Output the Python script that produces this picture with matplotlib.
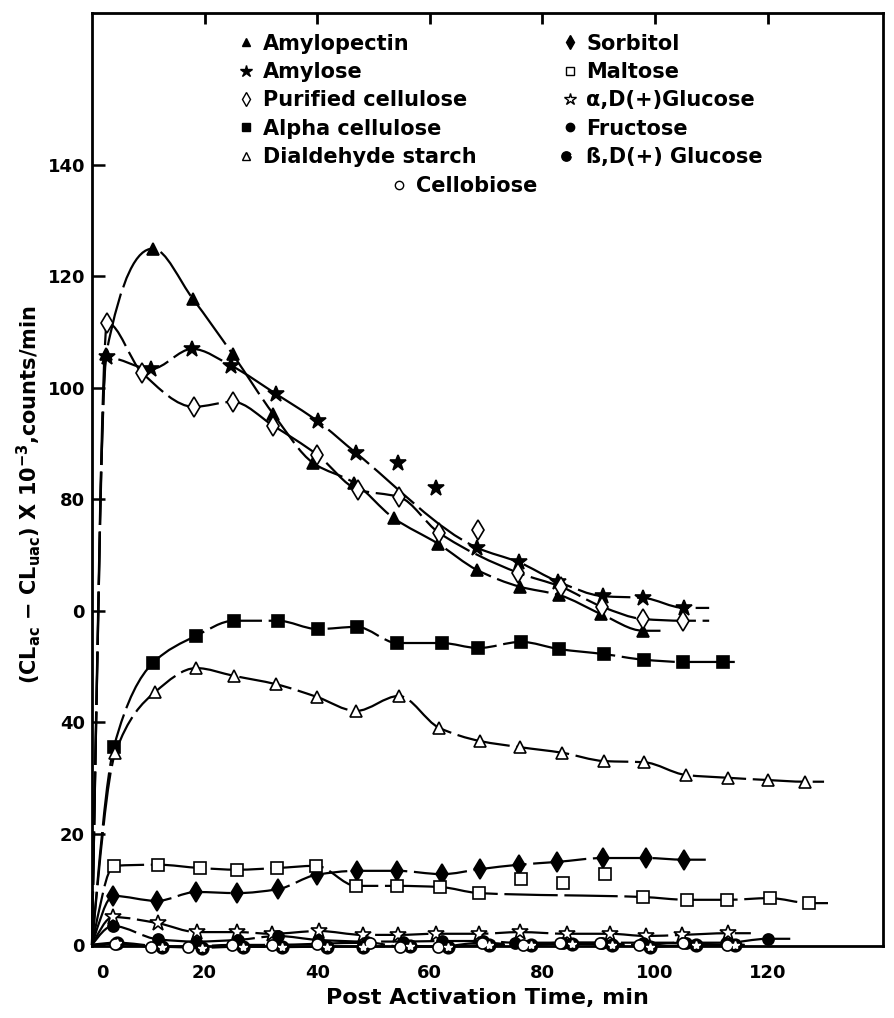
import numpy as np
import matplotlib
matplotlib.use('Agg')
import matplotlib.pyplot as plt
import matplotlib.transforms as mtransforms
from matplotlib.path import Path
from matplotlib.patches import PathPatch
from matplotlib.lines import Line2D
from matplotlib.legend_handler import HandlerTuple

# values (x = min, y = counts/min x 1e-3)
amylopectin_x = [2.5, 10.8, 17.9, 25.0, 32.2, 39.3, 46.5, 53.6, 61.5, 68.4, 76.0, 83.0, 90.4, 97.9]
amylopectin_y = [106, 125, 116, 106, 95.3, 86.5, 83, 76.6, 72, 67.3, 64.3, 62.8, 59.4, 56.4]

amylose_x = [2.6, 10.5, 17.8, 24.7, 32.7, 40.1, 46.9, 54.4, 61.1, 68.4, 75.8, 82.8, 90.8, 97.9, 105.2]
amylose_y = [105.5, 103.4, 107, 104, 98.9, 94, 88.3, 86.5, 82, 71.3, 68.7, 65.2, 62.6, 62.3, 60.5]

purified_x = [2.7, 8.9, 18.1, 25.0, 32.2, 40.0, 47.3, 54.6, 61.6, 68.6, 75.7, 83.3, 90.6, 97.9, 105.0]
purified_y = [111.7, 102.7, 96.6, 97.5, 93.2, 88, 81.7, 80.4, 74, 74.5, 66.8, 64.3, 60.7, 58.5, 58.2]

alpha_x = [3.9, 10.8, 18.5, 25.2, 33.0, 40.1, 47.0, 54.2, 62.1, 68.6, 76.2, 83.0, 91.0, 98.0, 105.0, 112.0]
alpha_y = [35.6, 50.6, 55.5, 58.2, 58.2, 56.7, 57.1, 54.2, 54.2, 53.3, 54.4, 53.1, 52.2, 51.2, 50.8, 50.8]

dialdehyde_x = [4.1, 11.2, 18.5, 25.2, 32.7, 40.0, 46.9, 54.5, 61.6, 68.9, 76.0, 83.5, 91.0, 98.0, 105.5, 113.0, 120.0, 126.6]
dialdehyde_y = [34.4, 45.4, 49.7, 48.3, 46.8, 44.5, 42, 44.7, 39, 36.6, 35.5, 34.5, 33, 32.8, 30.5, 30, 29.6, 29.3]

sorbitol_x = [3.8, 11.5, 18.5, 25.8, 33.0, 39.9, 47.0, 54.2, 62.2, 68.9, 75.8, 82.6, 90.8, 98.4, 105.2]
sorbitol_y = [8.8, 7.9, 9.5, 9.3, 10, 12.6, 13.3, 13.3, 12.7, 13.6, 14.4, 14.9, 15.6, 15.6, 15.3]

maltose_x = [3.9, 11.7, 19.2, 25.8, 32.8, 39.8, 46.9, 54.2, 61.8, 68.7, 76.2, 83.6, 91.1, 97.9, 105.7, 112.8, 120.4, 127.4]
maltose_y = [14.2, 14.4, 13.8, 13.5, 13.8, 14.2, 10.6, 10.6, 10.4, 9.3, 11.8, 11.1, 12.7, 8.6, 8.1, 8.1, 8.4, 7.5]

aglucose_x = [3.7, 11.7, 18.6, 25.8, 32.0, 40.3, 48.1, 54.4, 61.1, 68.7, 76.0, 84.4, 92.0, 98.4, 104.8, 113.0]
aglucose_y = [5, 3.9, 2.3, 2.3, 2, 2.5, 1.8, 1.8, 2, 2, 2.3, 2, 2, 1.6, 1.8, 2.1]

fructose_x = [3.7, 11.7, 18.5, 25.9, 33.0, 40.1, 48.8, 55.3, 62.2, 69.5, 75.1, 83.6, 90.6, 97.9, 105.5, 112.6, 120.0]
fructose_y = [3.4, 1, 0.6, 0.9, 1.6, 0.9, 0.6, 0.6, 0.7, 0.7, 0.4, 0.4, 0.4, 0.4, 0.4, 0.4, 1.1]

bglucose_x = [4.4, 12.4, 19.5, 26.8, 33.7, 41.7, 48.2, 56.5, 63.2, 70.5, 78.0, 85.3, 92.4, 99.1, 107.3, 114.2]
bglucose_y = [0.4, -0.3, -0.5, -0.3, -0.4, -0.3, -0.3, -0.2, -0.3, 0, 0, 0.2, 0, -0.3, 0, 0]

cellobiose_x = [4.1, 10.5, 17.0, 24.9, 32.0, 40.0, 49.4, 54.7, 61.5, 69.3, 76.6, 83.1, 90.2, 97.2, 105.0, 112.8]
cellobiose_y = [0.2, -0.3, -0.3, 0, 0, 0.2, 0.4, -0.3, -0.3, 0.4, 0, 0.4, 0.4, 0, 0.4, 0]

# points that sit off the hand-drawn curve (index into the series)
amylose_off = [7, 8]
purified_off = [9]
maltose_off = [10, 11, 12]

x_ticks = [0, 20, 40, 60, 80, 100, 120]
y_ticks = [0, 20, 40, 60, 80, 100, 120, 140]
y_ticklabels = ['0', '20', '40', '0', '80', '100', '120', '140']

plt.rcParams['font.family'] = ['DejaVu Sans']
plt.rcParams['font.weight'] = 'bold'
plt.rcParams['mathtext.fontset'] = 'dejavusans'


def pchip_slopes(x, y):
    h = np.diff(x)
    delta = np.diff(y) / h
    n = len(x)
    d = np.zeros(n)
    for k in range(1, n - 1):
        if delta[k - 1] * delta[k] <= 0:
            d[k] = 0.0
        else:
            w1 = 2 * h[k] + h[k - 1]
            w2 = h[k] + 2 * h[k - 1]
            d[k] = (w1 + w2) / (w1 / delta[k - 1] + w2 / delta[k])

    def end_slope(h0, h1, m0, m1):
        s = ((2 * h0 + h1) * m0 - h0 * m1) / (h0 + h1)
        if np.sign(s) != np.sign(m0):
            s = 0.0
        elif np.sign(m0) != np.sign(m1) and abs(s) > abs(3 * m0):
            s = 3 * m0
        return s

    if n > 2:
        d[0] = end_slope(h[0], h[1], delta[0], delta[1])
        d[-1] = end_slope(h[-1], h[-2], delta[-1], delta[-2])
    else:
        d[:] = delta[0]
    return d


def smooth_path(x, y):
    # monotone cubic through the points, handed to matplotlib as bezier segments
    x = np.asarray(x, float)
    y = np.asarray(y, float)
    d = pchip_slopes(x, y)
    verts = [(x[0], y[0])]
    codes = [Path.MOVETO]
    for i in range(len(x) - 1):
        h = x[i + 1] - x[i]
        verts += [(x[i] + h / 3, y[i] + d[i] * h / 3),
                  (x[i + 1] - h / 3, y[i + 1] - d[i + 1] * h / 3),
                  (x[i + 1], y[i + 1])]
        codes += [Path.CURVE4] * 3
    return Path(verts, codes)


# name, x, y, marker, face, size, end of drawn curve, off-curve points
series = [
    ('Amylopectin', amylopectin_x, amylopectin_y, '^', 'black', 8, 102, []),
    ('Amylose', amylose_x, amylose_y, '*', 'black', 12, 109.6, amylose_off),
    ('Purified cellulose', purified_x, purified_y, 'd', 'white', 10, 109.6, purified_off),
    ('Alpha cellulose', alpha_x, alpha_y, 's', 'black', 8.5, 115, []),
    ('Dialdehyde starch', dialdehyde_x, dialdehyde_y, '^', 'white', 8, 130, []),
    ('Sorbitol', sorbitol_x, sorbitol_y, 'd', 'black', 10, 109, []),
    ('Maltose', maltose_x, maltose_y, 's', 'white', 8.5, 130.7, maltose_off),
    ('α,D(+)Glucose', aglucose_x, aglucose_y, '*', 'white', 12, 117, []),
    ('Fructose', fructose_x, fructose_y, 'o', 'black', 8, 124, []),
    ('ß,D(+) Glucose', bglucose_x, bglucose_y, 'o', 'black', 9, 116, []),
    ('Cellobiose', cellobiose_x, cellobiose_y, 'o', 'white', 8, 116, []),
]

fig = plt.figure(figsize=(8.94, 10.18), dpi=100)
ax = fig.add_axes([0.1029, 0.0707, 0.885, 0.9165])

handles = {}
for name, xs, ys, mk, fc, ms, x_end, off in series:
    on = [i for i in range(len(xs)) if i not in off]
    lx = [0] + [xs[i] for i in on] + [x_end]
    ly = [0] + [ys[i] for i in on] + [ys[on[-1]]]
    patch = PathPatch(smooth_path(lx, ly), facecolor='none', edgecolor='black',
                      lw=1.6, linestyle=(0, (24, 3)), zorder=2, clip_on=False)
    ax.add_patch(patch)
    ax.plot(xs, ys, linestyle='none', marker=mk, ms=ms, mfc=fc, mec='black',
            mew=1.2, zorder=3, clip_on=False)
    h = Line2D([], [], linestyle='none', marker=mk, ms=ms * 0.75, mfc=fc,
               mec='black', mew=1.0)
    if name.startswith('ß'):
        ax.plot(xs, ys, linestyle='none', marker='*', ms=6, mfc='white',
                mec='white', zorder=4, clip_on=False)
        star = Line2D([], [], linestyle='none', marker='*', ms=5, mfc='white', mec='white')
        h = (h, star)
    handles[name] = h

ax.set_xlim(0, 140.5)
ax.set_ylim(-0.2, 167.3)
ax.set_xticks(x_ticks)
ax.set_xticklabels([str(t) for t in x_ticks], fontsize=13, fontweight='bold')
ax.set_yticks(y_ticks)
ax.set_yticklabels(y_ticklabels, fontsize=13, fontweight='bold')
ax.tick_params(axis='y', direction='in', length=9, width=1.8, pad=5)
ax.tick_params(axis='x', direction='in', length=0, pad=13)
# the "0" under the corner sits a little right of the axis
lab0 = ax.get_xticklabels()[0]
lab0.set_transform(lab0.get_transform() + mtransforms.ScaledTranslation(10 / 100, 0, fig.dpi_scale_trans))

top = ax.secondary_xaxis('top')
top.set_xticks(x_ticks[1:])
top.tick_params(direction='in', length=8, width=2, labeltop=False)
for sp in ax.spines.values():
    sp.set_linewidth(2)

ax.set_xlabel('Post Activation Time, min', fontsize=16, fontweight='bold', labelpad=4)
ax.set_ylabel(r'(CL$_{\mathbf{ac}}$ $-$ CL$_{\mathbf{uac}}$) X 10$^{\mathbf{-3}}$,counts/min',
              fontsize=15, fontweight='bold')
ax.yaxis.set_label_coords(-0.062, 0.484)

kw = dict(frameon=False, fontsize=15, handlelength=0.8, handletextpad=0.4,
          labelspacing=0.4, borderpad=0, borderaxespad=0,
          bbox_transform=fig.transFigure, loc='upper left',
          handler_map={tuple: HandlerTuple(ndivide=None, pad=0)})
left_names = ['Amylopectin', 'Amylose', 'Purified cellulose', 'Alpha cellulose', 'Dialdehyde starch']
right_names = ['Sorbitol', 'Maltose', 'α,D(+)Glucose', 'Fructose', 'ß,D(+) Glucose']
leg1 = ax.legend([handles[n] for n in left_names], left_names,
                 bbox_to_anchor=(0.266, 0.967), **kw)
ax.add_artist(leg1)
leg2 = ax.legend([handles[n] for n in right_names], right_names,
                 bbox_to_anchor=(0.628, 0.967), **kw)
ax.add_artist(leg2)
ax.legend([handles['Cellobiose']], ['Cellobiose'],
          bbox_to_anchor=(0.437, 0.827), **kw)

fig.savefig('out.png', dpi=100)
